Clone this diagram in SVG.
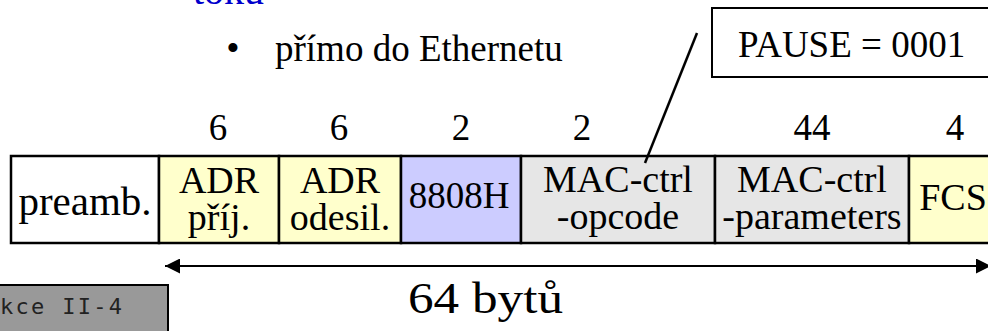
<svg xmlns="http://www.w3.org/2000/svg" width="988" height="331" viewBox="0 0 988 331">
<style>
text{font-family:"Liberation Serif","Times New Roman",serif;fill:#000}
.t{font-size:38px;text-anchor:middle}
.n{font-size:37px;text-anchor:middle}
.cell{stroke:#000;stroke-width:2.5}
.y{fill:#FFFFCC}.b{fill:#CCCCFF}.g{fill:#E6E6E6}.w{fill:#FFFFFF}
</style>
<defs>
<marker id="ah" viewBox="0 0 10 10" refX="10" refY="5" markerWidth="8" markerHeight="7.5" markerUnits="strokeWidth" orient="auto-start-reverse">
<path d="M0,0 L10,5 L0,10 z" fill="#000"/>
</marker>
</defs>
<text x="193" y="4" style="font-size:40px;fill:#0000CC">toku</text>
<text x="233" y="61" style="font-size:38px;text-anchor:middle">•</text>
<text x="275" y="61" style="font-size:37px">přímo do Ethernetu</text>
<g id="pause"><rect x="712" y="8" width="300" height="69" fill="#fff" stroke="#000" stroke-width="2"/>
<text x="738" y="57" style="font-size:37px">PAUSE = 0001</text></g>
<g id="sizes">
<text class="n" x="218" y="140">6</text>
<text class="n" x="339" y="140">6</text>
<text class="n" x="461" y="140">2</text>
<text class="n" x="582" y="140">2</text>
<text class="n" x="812" y="140">44</text>
<text class="n" x="955" y="140">4</text>
</g>
<g id="preamb"><rect class="cell w" x="11" y="156" width="148" height="87"/><text class="t" x="85" y="215" style="font-size:41px">preamb.</text></g>
<g id="adr1"><rect class="cell y" x="159" y="156" width="120" height="87"/><text class="t" x="219" y="193">ADR</text><text class="t" x="219" y="230">příj.</text></g>
<g id="adr2"><rect class="cell y" x="279" y="156" width="122" height="87"/><text class="t" x="340" y="193">ADR</text><text class="t" x="340" y="230">odesil.</text></g>
<g id="type"><rect class="cell b" x="401" y="156" width="120" height="87"/><text class="t" x="459" y="208" style="font-size:37px">8808H</text></g>
<g id="opcode"><rect class="cell g" x="521" y="156" width="194" height="87"/><text class="t" x="618" y="192">MAC-ctrl</text><text class="t" x="618" y="229">-opcode</text></g>
<g id="params"><rect class="cell g" x="715" y="156" width="194" height="87"/><text class="t" x="812" y="192">MAC-ctrl</text><text class="t" x="812" y="229">-parameters</text></g>
<g id="fcs"><rect class="cell y" x="909" y="156" width="96" height="87"/><text class="t" x="953" y="210">FCS</text></g>
<g id="connectors">
<line x1="697" y1="33" x2="645" y2="163" stroke="#000" stroke-width="2.5"/>
<line x1="165" y1="266" x2="991" y2="266" stroke="#000" stroke-width="2" marker-start="url(#ah)" marker-end="url(#ah)"/>
</g>
<text x="408" y="313" textLength="155" lengthAdjust="spacingAndGlyphs" style="font-size:45px">64 bytů</text>
<g id="footer"><rect x="-5" y="285" width="173" height="60" fill="#999999" stroke="#000" stroke-width="2"/>
<text x="0" y="314" textLength="122" lengthAdjust="spacing" style="font-family:'DejaVu Sans Mono',monospace;font-size:22px;fill:#222">kce II-4</text></g>
</svg>
